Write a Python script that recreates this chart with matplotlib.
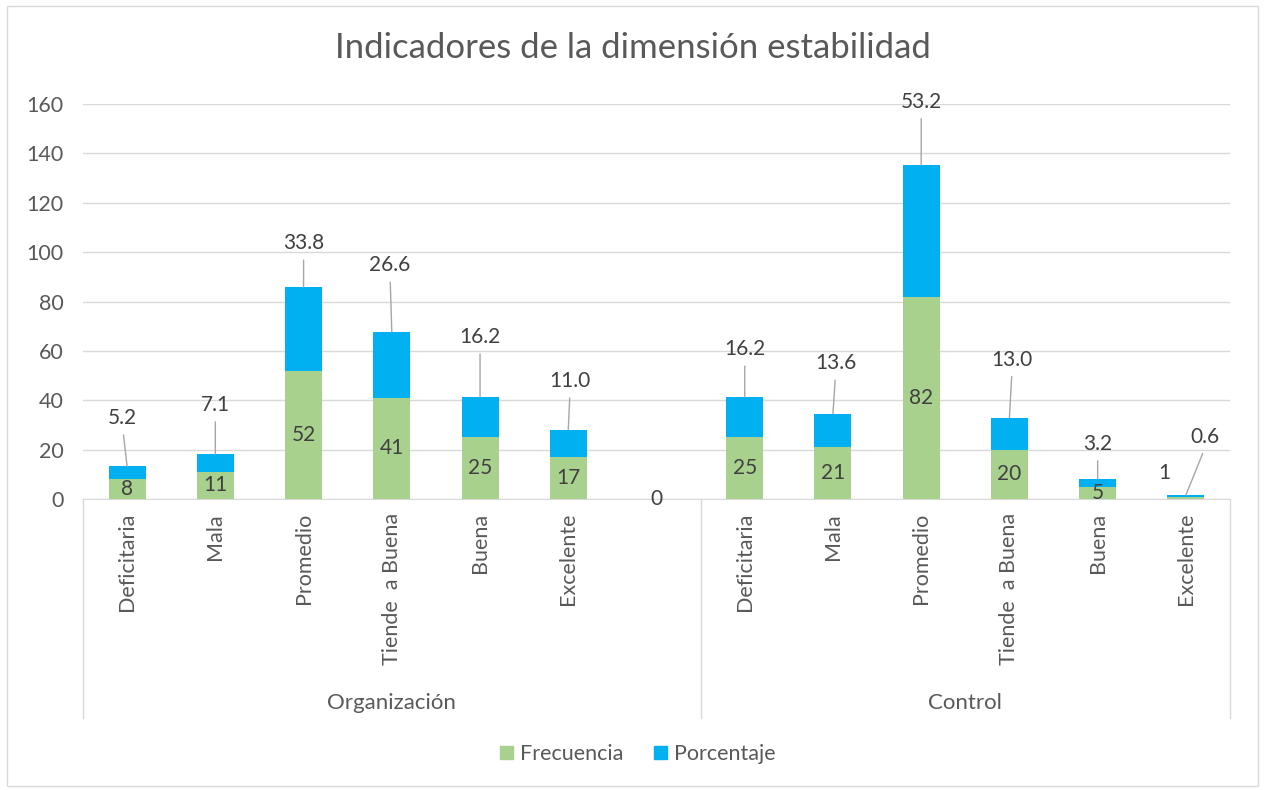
import numpy as np
import matplotlib
matplotlib.use('Agg')
import matplotlib.pyplot as plt
from matplotlib.patches import Rectangle, Patch
from matplotlib.lines import Line2D
import matplotlib.transforms as mtransforms

# Data
categorias = ['Deficitaria', 'Mala', 'Promedio', 'Tiende  a Buena', 'Buena', 'Excelente']
grupos = ['Organización', 'Control']
frecuencia_org = [8, 11, 52, 41, 25, 17]
porcentaje_org = [5.2, 7.1, 33.8, 26.6, 16.2, 11.0]
frecuencia_ctrl = [25, 21, 82, 20, 5, 1]
porcentaje_ctrl = [16.2, 13.6, 53.2, 13.0, 3.2, 0.6]

# label offsets (slot units, data units) for the Porcentaje labels, as dragged in the original
pct_dx = [-0.05, 0, 0, -0.02, 0, 0.02, 0, 0, 0.03, 0, 0.03, 0, 0.22]
pct_dy = [19.6, 20.0, 17.8, 27.1, 24.4, 19.8, 0, 19.5, 20.4, 25.7, 23.5, 14.1, 23.5]

GREEN = '#A9D18E'
BLUE = '#00B0F0'
TXT = '#595959'
LBL = '#404040'
GRID = '#D9D9D9'
FONT = ['Lato', 'DejaVu Sans']

plt.rcParams['font.family'] = FONT

frecuencia = np.array(frecuencia_org + [0] + frecuencia_ctrl, dtype=float)
porcentaje = np.array(porcentaje_org + [0] + porcentaje_ctrl, dtype=float)
etiquetas = categorias + [''] + categorias
x = np.arange(len(frecuencia))

W, H = 1266, 790
fig = plt.figure(figsize=(W / 100, H / 100), dpi=100)
ax = fig.add_axes([83 / W, 1 - 499 / H, (1230 - 83) / W, (499 - 104) / H])

ax.bar(x, frecuencia, width=0.42, color=GREEN, label='Frecuencia', zorder=3)
ax.bar(x, porcentaje, width=0.42, bottom=frecuencia, color=BLUE, label='Porcentaje', zorder=3)

ax.set_xlim(-0.5, 12.5)
ax.set_ylim(0, 160)
ax.set_yticks(range(0, 161, 20))
ax.grid(axis='y', color=GRID, lw=1, zorder=0)
for s in ['top', 'right', 'left']:
    ax.spines[s].set_visible(False)
ax.spines['bottom'].set_color(GRID)
ax.tick_params(axis='y', length=0, pad=14, labelsize=15.5, labelcolor=TXT)
ax.set_xticks(x)
ax.set_xticklabels(etiquetas, rotation=90, fontsize=15.5, color=TXT)
ax.tick_params(axis='x', length=0, pad=10)

# Frecuencia labels, centred in the green segment
for i in x:
    if i == 6:
        ax.text(i, 0, '0', ha='center', va='center', fontsize=15, color=LBL, zorder=4)
        continue
    if i == 12:
        ax.text(i - 0.245, 10.5, '%d' % frecuencia[i], ha='center', va='center',
                fontsize=15, color=LBL, zorder=4)
        continue
    ax.text(i, frecuencia[i] / 2, '%d' % frecuencia[i], ha='center', va='center',
            fontsize=15, color=LBL, zorder=4)

# Porcentaje labels with leader lines
for i in x:
    if i == 6:
        continue
    top = frecuencia[i] + porcentaje[i]
    ax.annotate('%.1f' % porcentaje[i], xy=(i, top), xytext=(i + pct_dx[i], top + pct_dy[i]),
                ha='center', va='center', fontsize=15, color=LBL, zorder=5,
                arrowprops=dict(arrowstyle='-', color='#A6A6A6', lw=1,
                                relpos=(0.5, 0), shrinkA=3, shrinkB=0))

# group separators and group labels
trans = mtransforms.blended_transform_factory(ax.transData, ax.transAxes)
y_low = -(718 - 499) / (499 - 104)
for xs in [-0.5, 6.5, 12.5]:
    ax.add_line(Line2D([xs, xs], [0, y_low], transform=trans, color=GRID, lw=1, clip_on=False))
ax.text(3.0, -(703 - 499) / (499 - 104), grupos[0], transform=trans, ha='center', va='center',
        fontsize=16, color=TXT)
ax.text(9.5, -(703 - 499) / (499 - 104), grupos[1], transform=trans, ha='center', va='center',
        fontsize=16, color=TXT)

fig.text(633 / W, 1 - 48 / H, 'Indicadores de la dimensión estabilidad', ha='center', va='center',
         fontsize=25, color=TXT)

handles = [Patch(color=GREEN), Patch(color=BLUE)]
fig.legend(handles, ['Frecuencia', 'Porcentaje'], loc='center', bbox_to_anchor=(638 / W, 1 - 754 / H),
           ncol=2, frameon=False, fontsize=15.5, labelcolor=TXT, handlelength=0.6, handleheight=0.6,
           handletextpad=0.35, columnspacing=1.4)

# chart border
fig.patches.append(Rectangle((7 / W, 1 - 786 / H), (1258 - 7) / W, (786 - 6) / H,
                             transform=fig.transFigure, fill=False, edgecolor=GRID, lw=1))

fig.savefig('out.png', dpi=100, facecolor='white')
